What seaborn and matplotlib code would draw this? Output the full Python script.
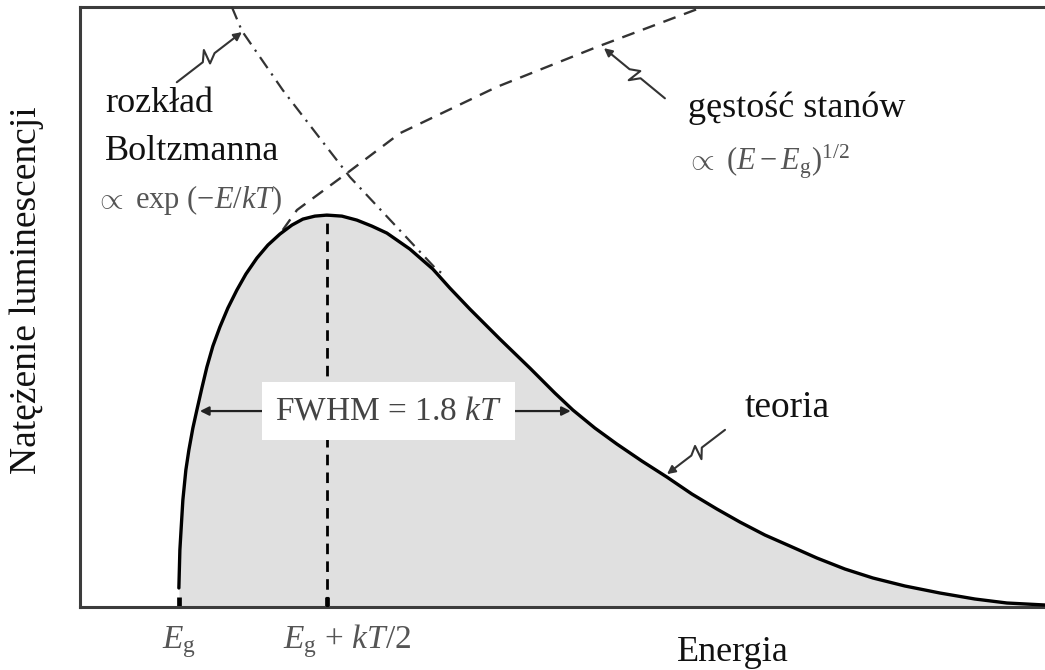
import numpy as np
import pandas as pd
import matplotlib
matplotlib.use("Agg")
import matplotlib.pyplot as plt
import matplotlib.transforms as mtransforms
import seaborn as sns

# ---------------- data (energy in kT above Eg, intensity normalised to peak) ----
energy_curve = [0.0, 0.0034, 0.0084, 0.0135, 0.0236, 0.0338, 0.0473, 0.0608, 0.0777, 0.0946,
                0.1149, 0.1385, 0.1655, 0.1959, 0.2264, 0.2635, 0.3007, 0.3412, 0.3818, 0.4189,
                0.4595, 0.5, 0.5507, 0.6014, 0.6520, 0.7027, 0.7804, 0.8581, 0.9155, 0.9831,
                1.0845, 1.1858, 1.2703, 1.3311, 1.4054, 1.4797, 1.5642, 1.6486, 1.7331, 1.8176,
                1.8953, 1.9797, 2.0642, 2.1554, 2.25, 2.3446, 2.4527, 2.5709, 2.6892, 2.7973,
                2.9257]
intensity_curve = [0.0485, 0.1454, 0.2092, 0.2730, 0.3495, 0.4005, 0.4566, 0.5026, 0.5587, 0.6122,
                   0.6658, 0.7143, 0.7628, 0.8087, 0.8495, 0.8903, 0.9235, 0.9515, 0.9745, 0.9898,
                   0.9974, 1.0, 0.9974, 0.9872, 0.9719, 0.9541, 0.9133, 0.8622, 0.8138, 0.7602,
                   0.6837, 0.6097, 0.5459, 0.5026, 0.4566, 0.4158, 0.3724, 0.3316, 0.2883, 0.2500,
                   0.2168, 0.1837, 0.1556, 0.1250, 0.0969, 0.0740, 0.0536, 0.0357, 0.0204, 0.0102,
                   0.0051]

energy_boltz = [0.179, 0.213, 0.351, 0.5, 0.578, 0.872, 0.899]
intensity_boltz = [1.531, 1.47, 1.319, 1.173, 1.097, 0.860, 0.847]

energy_dos = [0.351, 0.399, 0.568, 0.747, 1.074, 1.412, 1.770]
intensity_dos = [0.962, 1.013, 1.107, 1.209, 1.327, 1.429, 1.531]

peak_energy = [0.5, 0.5]
peak_intensity = [0.0, 1.0]

tick_positions = [0.0, 0.5]
tick_labels = [r"$E_\mathrm{g}$", r"$E_\mathrm{g}$ + $kT$/2"]
fwhm_left, fwhm_right, half_max = 0.071, 1.324, 0.5
fwhm_box = (0.29, 1.125)

# ---------------- style -------------
sns.set_theme(style="white")
plt.rcParams["font.family"] = ["Liberation Serif", "DejaVu Serif"]
plt.rcParams["mathtext.fontset"] = "custom"
plt.rcParams["mathtext.rm"] = "Liberation Serif"
plt.rcParams["mathtext.it"] = "Liberation Serif:italic"
plt.rcParams["mathtext.bf"] = "Liberation Serif:bold"

W, H = 1045, 670
fig = plt.figure(figsize=(W / 100, H / 100), dpi=100)
ax = fig.add_axes([80 / W, 1 - 607 / H, 1 - 80 / W, 600 / H])
ax.set_xlim(-0.334, 2.926)
ax.set_ylim(0, 1.531)

df_curve = pd.DataFrame({"E": energy_curve, "I": intensity_curve})
df_boltz = pd.DataFrame({"E": energy_boltz, "I": intensity_boltz})
df_dos = pd.DataFrame({"E": energy_dos, "I": intensity_dos})
df_peak = pd.DataFrame({"E": peak_energy, "I": peak_intensity})

common = dict(sort=False, estimator=None, errorbar=None, ax=ax)
ax.fill_between(df_curve["E"], 0, df_curve["I"], color="#e0e0e0", lw=0, zorder=0.3)
sns.lineplot(data=df_curve, x="E", y="I", color="black", lw=2.4, zorder=4,
             solid_joinstyle="round", **common)
sns.lineplot(data=df_boltz, x="E", y="I", color="#333333", lw=1.6,
             linestyle=(0, (6, 3, 1, 3)), zorder=3, **common)
sns.lineplot(data=df_dos, x="E", y="I", color="#333333", lw=1.7,
             linestyle=(0, (5.5, 3.8)), zorder=3, **common)
sns.lineplot(data=df_peak, x="E", y="I", color="black", lw=2.0,
             linestyle=(0, (3.8, 2.6)), zorder=3, **common)

# ---------------- axes -------------
for s in ["left", "bottom", "top"]:
    ax.spines[s].set_color("#3c3c3c")
    ax.spines[s].set_linewidth(2.2)
ax.spines["right"].set_visible(False)
ax.set_yticks([])
ax.set_xticks(tick_positions)
ax.set_xticklabels(["", ""])
ax.tick_params(axis="x", direction="in", length=7, width=3.4, color="black", bottom=True)
ax.set_xlabel("")
ax.set_ylabel("")

blend = mtransforms.blended_transform_factory(ax.transData, fig.transFigure)
ax.text(tick_positions[0], 1 - 648 / H, tick_labels[0], transform=blend, ha="center",
        va="baseline", fontsize=24, color="#555555")
ax.text(tick_positions[1] - 0.148, 1 - 648 / H, tick_labels[1], transform=blend, ha="left",
        va="baseline", fontsize=24, color="#555555")

fig.text(733 / W, 1 - 661 / H, "Energia", ha="center", va="baseline", fontsize=26,
         color="#111111")
fig.text(27 / W, 1 - 290 / H, "Natężenie luminescencji", rotation=90, ha="center",
         va="center", fontsize=27, color="#111111")

# ---------------- annotations -------------
ax.text(105 / W, 1 - 104 / H, "rozkład", transform=fig.transFigure, ha="left", va="center",
        fontsize=26, color="#111111")
ax.text(105 / W, 1 - 152 / H, "Boltzmanna", transform=fig.transFigure, ha="left", va="center",
        fontsize=26, color="#111111")
ax.text(95 / W, 1 - 200 / H, r"$\propto$ exp ($-E/kT$)", transform=fig.transFigure, ha="left",
        va="center", fontsize=22, color="#555555")
ax.text(688 / W, 1 - 108 / H, "gęstość stanów", transform=fig.transFigure, ha="left",
        va="center", fontsize=26, color="#111111")
ax.text(686 / W, 1 - 162 / H, r"$\propto$ ($E - E_\mathrm{g}$)$^{1/2}$", transform=fig.transFigure,
        ha="left", va="center", fontsize=22, color="#555555")
ax.text(745 / W, 1 - 408 / H, "teoria", transform=fig.transFigure, ha="left", va="center",
        fontsize=27, color="#111111")

# FWHM box and arrows
ax.text(sum(fwhm_box) / 2, half_max, r"FWHM = 1.8 $kT$", ha="center", va="center",
        fontsize=24, color="#444444", zorder=6,
        bbox=dict(boxstyle="square,pad=0.4", fc="white", ec="none"))
ax.annotate("", xy=(fwhm_left, half_max), xytext=(fwhm_box[0], half_max),
            arrowprops=dict(arrowstyle="-|>", color="#222222", lw=1.6, mutation_scale=13,
                            shrinkA=0, shrinkB=0), zorder=5)
ax.annotate("", xy=(fwhm_right, half_max), xytext=(fwhm_box[1], half_max),
            arrowprops=dict(arrowstyle="-|>", color="#222222", lw=1.6, mutation_scale=13,
                            shrinkA=0, shrinkB=0), zorder=5)


def squiggle(tail, tip, w=9.0):
    inv = ax.transData.inverted()
    A = ax.transData.transform(tail)
    B = ax.transData.transform(tip)
    d = B - A
    L = np.hypot(*d)
    u = d / L
    p = np.array([-u[1], u[0]])
    pts = [A, A + 0.40 * d, A + 0.50 * d + p * w, A + 0.46 * d - p * w * 0.6,
           A + 0.58 * d, B - u * 6]
    pts = inv.transform(np.array(pts))
    ax.plot(pts[:, 0], pts[:, 1], color="#333333", lw=1.5, zorder=5, solid_joinstyle="round")
    ax.annotate("", xy=tip, xytext=tuple(pts[-1]),
                arrowprops=dict(arrowstyle="-|>", color="#333333", lw=1.5, mutation_scale=12,
                                shrinkA=0, shrinkB=0), zorder=5)


squiggle((-0.007, 1.339), (0.213, 1.467))
squiggle((1.642, 1.298), (1.436, 1.426))
squiggle((1.845, 0.452), (1.649, 0.339))

fig.savefig("out.png", dpi=100)
